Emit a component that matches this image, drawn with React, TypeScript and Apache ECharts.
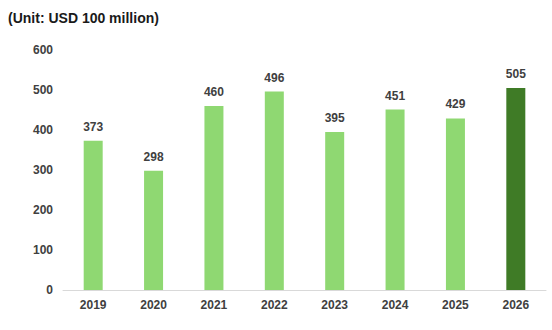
import React, { useEffect, useRef } from "react";
import * as echarts from "echarts";

const categories = ["2019", "2020", "2021", "2022", "2023", "2024", "2025", "2026"];
const values = [373, 298, 460, 496, 395, 451, 429, 505];
const highlightIndex = 7;
const titleText = "(Unit: USD 100 million)";

export default function App() {
  const ref = useRef<HTMLDivElement>(null);
  useEffect(() => {
    if (!ref.current) return;
    const chart = echarts.init(ref.current, undefined, { renderer: "svg" });
    chart.setOption({
      animation: false,
      title: {
        text: titleText,
        left: 3,
        top: 6,
        textStyle: { fontFamily: "Liberation Sans", fontWeight: "bold", fontSize: 14, color: "#1a1a1a" },
      },
      grid: { left: 63, right: 6, top: 50, bottom: 40 },
      xAxis: {
        type: "category",
        data: categories,
        axisLine: { lineStyle: { color: "#d9d9d9", width: 1 } },
        axisTick: { show: false },
        axisLabel: { color: "#404040", fontWeight: "bold", fontSize: 12, fontFamily: "Liberation Sans", margin: 9 },
      },
      yAxis: {
        type: "value",
        min: 0,
        max: 600,
        interval: 100,
        splitLine: { show: false },
        axisLine: { show: false },
        axisTick: { show: false },
        axisLabel: { color: "#404040", fontWeight: "bold", fontSize: 12, fontFamily: "Liberation Sans", margin: 10 },
      },
      series: [
        {
          type: "bar",
          barWidth: 19,
          data: values.map((v, i) => ({
            value: v,
            itemStyle: { color: i === highlightIndex ? "#3f7b26" : "#8fd872" },
          })),
          label: {
            show: true,
            position: "top",
            distance: 8,
            color: "#404040",
            fontWeight: "bold",
            fontSize: 12,
            fontFamily: "Liberation Sans",
          },
        },
      ],
    });
    return () => chart.dispose();
  }, []);
  return <div ref={ref} style={{ width: 552, height: 330, position: "absolute", left: 0, top: 0 }} />;
}
